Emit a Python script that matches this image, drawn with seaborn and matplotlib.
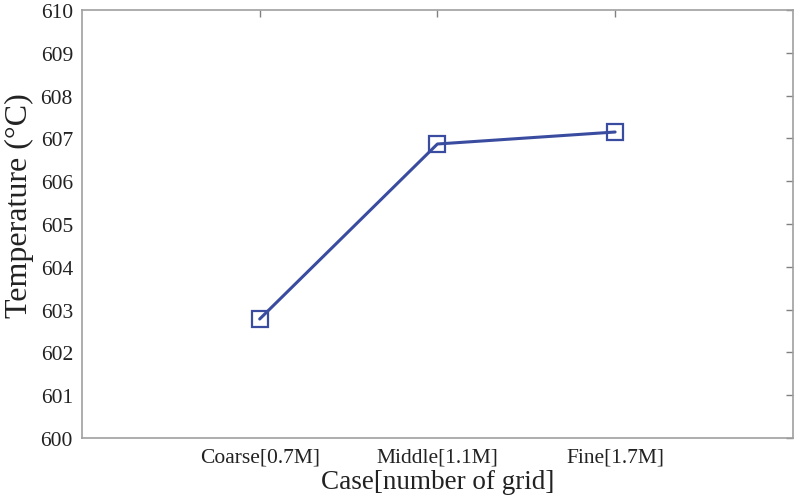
import matplotlib
matplotlib.use("Agg")
import matplotlib.pyplot as plt
import seaborn as sns
import pandas as pd

# values
cases = ["Coarse[0.7M]", "Middle[1.1M]", "Fine[1.7M]"]
temperature = [602.78, 606.87, 607.15]

df = pd.DataFrame({"Case": cases, "Temperature": temperature})

sns.set_style("white")
plt.rcParams["font.family"] = ["Liberation Serif", "DejaVu Serif"]

line_color = "#3a4ca0"
spine_color = "#a0a0a0"

fig = plt.figure(figsize=(8, 5.02), dpi=100)
ax = fig.add_axes([0.1025, 0.1255, 0.8885, 0.8525])

sns.lineplot(data=df, x="Case", y="Temperature", ax=ax, color=line_color,
             linewidth=2.2, marker="s", markersize=11, markerfacecolor="none",
             markeredgecolor=line_color, markeredgewidth=1.6, sort=False)

ax.set_xlim(-1, 3)
ax.set_ylim(600, 610)
ax.set_yticks(range(600, 611))
ax.set_xticks(range(len(cases)))
ax.set_xticklabels(cases)

ax.tick_params(direction="in", length=5, width=1, color="#808080",
               top=True, right=True, labelsize=15.5, labelcolor="#222222")
ax.tick_params(axis="y", pad=6.5)
ax.tick_params(axis="x", pad=7)
for s in ax.spines.values():
    s.set_color(spine_color)
    s.set_linewidth(1.2)

ax.set_xlabel("Case[number of grid]", fontsize=19.5, color="#222222", labelpad=2)
ax.set_ylabel("Temperature (°C)", fontsize=23, color="#222222")
ax.yaxis.set_label_coords(-0.068, 0.545)

fig.savefig("out.png", dpi=100)
